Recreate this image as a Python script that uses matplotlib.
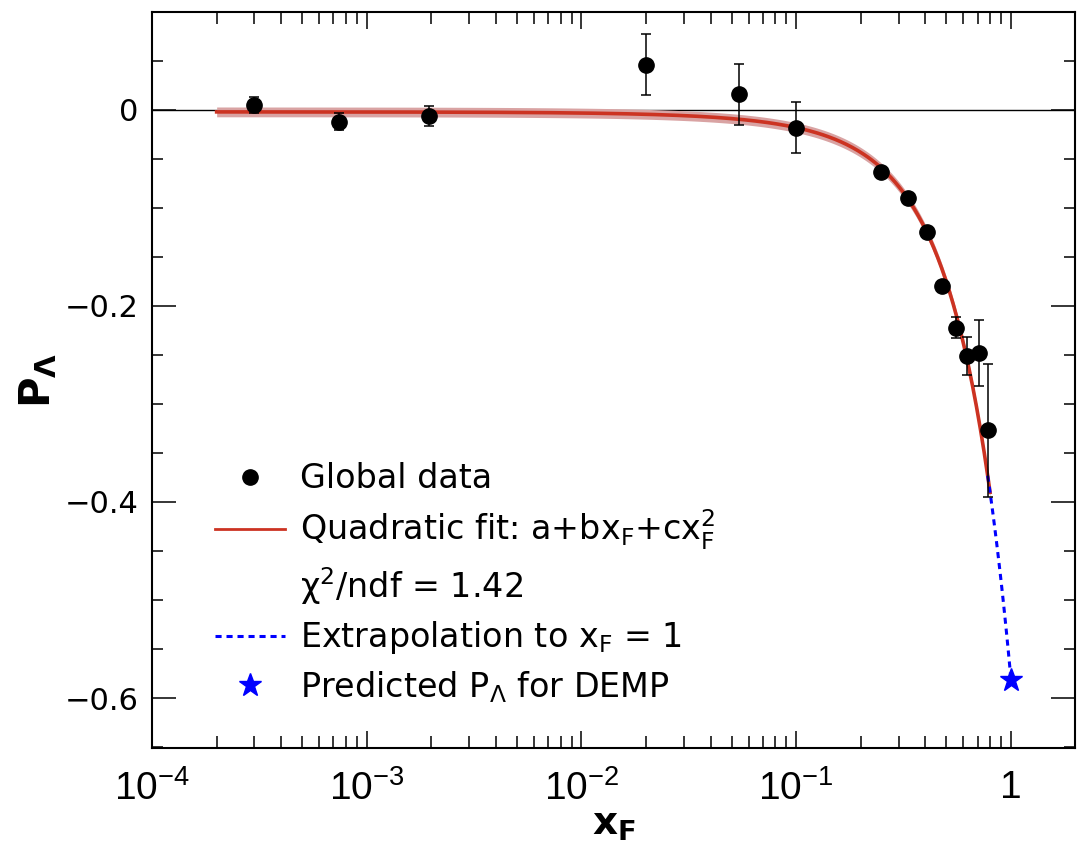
import numpy as np
import matplotlib.pyplot as plt
from matplotlib.lines import Line2D
from matplotlib.ticker import FixedLocator, MultipleLocator, LogLocator, FuncFormatter, NullFormatter

plt.rcParams['font.family'] = ['DejaVu Sans']
plt.rcParams['mathtext.default'] = 'regular'

# global Lambda polarisation data
xf = [3.0e-4, 7.4e-4, 1.95e-3, 0.020, 0.054, 0.100, 0.248, 0.332, 0.406, 0.477, 0.555, 0.624, 0.710, 0.780]
p_lambda = [0.005, -0.012, -0.006, 0.046, 0.016, -0.018, -0.063, -0.090, -0.125, -0.180, -0.222, -0.251, -0.248, -0.327]
p_err = [0.008, 0.009, 0.010, 0.031, 0.031, 0.026, 0.004, 0.004, 0.004, 0.005, 0.011, 0.019, 0.034, 0.068]

# quadratic fit a + b*x + c*x^2
fit_a, fit_b, fit_c = -0.002, -0.114, -0.464
fit_err = 0.005
fit_range = (2e-4, 0.80)
extrap_range = (0.78, 1.0)
pred_x = 1.0
pred_p = -0.582

xtick_vals = [1e-4, 1e-3, 1e-2, 1e-1, 1]
xtick_labels = ['$10^{-4}$', '$10^{-3}$', '$10^{-2}$', '$10^{-1}$', '1']
ytick_vals = [0, -0.2, -0.4, -0.6]


def quad(x):
    return fit_a + fit_b * x + fit_c * x ** 2


fig = plt.figure(figsize=(10.89, 8.5), dpi=100)
ax = fig.add_axes([0.1396, 0.12, 0.848, 0.866])

xs = np.logspace(np.log10(fit_range[0]), np.log10(fit_range[1]), 400)
ax.fill_between(xs, quad(xs) - fit_err, quad(xs) + fit_err, color='#d9a3a3', lw=0, zorder=2)
ax.plot(xs, quad(xs), color='#cc3322', lw=2.6, zorder=3)

xe = np.linspace(extrap_range[0], extrap_range[1], 50)
ax.plot(xe, quad(xe), color='#0000ff', lw=2.2, ls=(0, (2, 1.6)), zorder=3)
ax.plot([pred_x], [pred_p], marker='*', color='#0000ff', ms=17, ls='none', zorder=5)

ax.axhline(0, color='black', lw=1.0, zorder=1)
ax.errorbar(xf, p_lambda, yerr=p_err, fmt='o', color='black', ms=11, elinewidth=1.1,
            capsize=3.5, capthick=1.1, zorder=4)

ax.set_xscale('log')
ax.set_xlim(1e-4, 2.0)
ax.set_ylim(-0.651, 0.1)

ax.xaxis.set_major_locator(FixedLocator(xtick_vals))
ax.xaxis.set_major_formatter(FuncFormatter(lambda v, pos: xtick_labels[pos] if pos is not None and pos < len(xtick_labels) else ''))
ax.xaxis.set_minor_locator(LogLocator(base=10, subs=np.arange(2, 10), numticks=20))
ax.xaxis.set_minor_formatter(NullFormatter())
ax.yaxis.set_major_locator(FixedLocator(ytick_vals))
ax.yaxis.set_minor_locator(MultipleLocator(0.05))
ax.set_yticklabels(['0', '\u22120.2', '\u22120.4', '\u22120.6'])

ax.tick_params(which='both', direction='in', top=True, right=True, width=1.1)
ax.tick_params(axis='x', which='major', length=12, pad=16)
ax.tick_params(axis='x', which='minor', length=8.5)
ax.tick_params(axis='y', which='major', length=17, pad=10, labelsize=22)
ax.tick_params(axis='y', which='minor', length=8)
for lab in ax.get_xticklabels():
    lab.set_fontfamily(['Liberation Sans Narrow', 'Liberation Sans'])
    lab.set_fontsize(28)
for sp in ax.spines.values():
    sp.set_linewidth(1.5)

ax.set_xlabel('x$_F$', fontsize=28, fontweight='bold', labelpad=-2)
ax.set_ylabel('P$_\\Lambda$', fontsize=30, fontweight='bold', labelpad=4)

handles = [
    Line2D([], [], marker='o', color='black', ls='none', ms=11),
    Line2D([], [], color='#cc3322', lw=2.0),
    Line2D([], [], color='none'),
    Line2D([], [], color='#0000ff', lw=2.2, ls=(0, (2, 1.6))),
    Line2D([], [], marker='*', color='#0000ff', ls='none', ms=17),
]
labels = [
    'Global data',
    'Quadratic fit: a+bx$_F$+cx$_F^2$',
    '$\\chi^2$/ndf = 1.42',
    'Extrapolation to x$_F$ = 1',
    'Predicted P$_\\Lambda$ for DEMP',
]
ax.legend(handles, labels, loc='upper left', bbox_to_anchor=(0.068, 0.388), frameon=False,
          fontsize=24, handlelength=2.1, handletextpad=0.45, labelspacing=0.38, borderpad=0,
          borderaxespad=0)

fig.savefig('out.png', dpi=100)
